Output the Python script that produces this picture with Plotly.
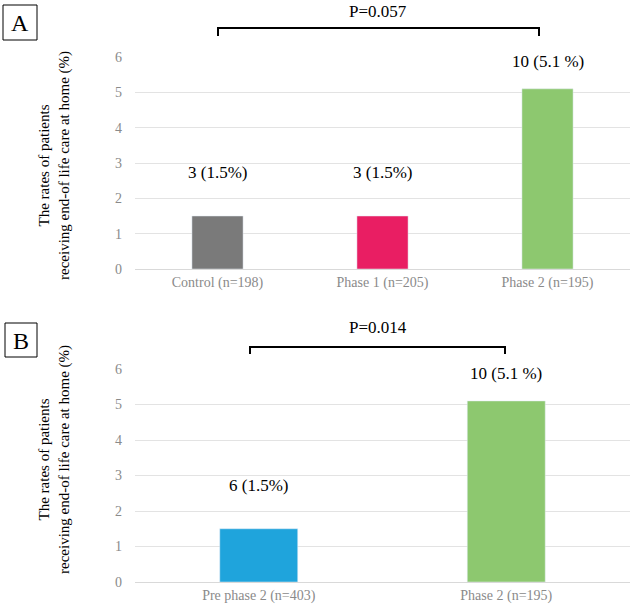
import plotly.graph_objects as go

W, H = 637, 610

# Panel A data
cats_a = ["Control (n=198)", "Phase 1 (n=205)", "Phase 2 (n=195)"]
vals_a = [1.5, 1.5, 5.1]
labels_a = ["3 (1.5%)", "3 (1.5%)", "10 (5.1 %)"]
colors_a = ["#7a7a7a", "#e91e63", "#8dc86f"]
p_a = "P=0.057"

# Panel B data
cats_b = ["Pre phase 2 (n=403)", "Phase 2 (n=195)"]
vals_b = [1.5, 5.1]
labels_b = ["6 (1.5%)", "10 (5.1 %)"]
colors_b = ["#1fa4dc", "#8dc86f"]
p_b = "P=0.014"

y_ticks = [0, 1, 2, 3, 4, 5, 6]
ytitle = "The rates of patients<br>receiving end-of life care at home (%)"

FONT = "Liberation Serif"

def px(x):
    return x / W

def py(y):
    return 1 - y / H

fig = go.Figure()
fig.add_trace(go.Bar(x=cats_a, y=vals_a, marker_color=colors_a, width=0.31,
                     xaxis="x", yaxis="y", showlegend=False, hoverinfo="skip"))
fig.add_trace(go.Bar(x=cats_b, y=vals_b, marker_color=colors_b, width=0.315,
                     xaxis="x2", yaxis="y2", showlegend=False, hoverinfo="skip"))

tick_font = dict(family=FONT, size=14, color="#8a8a8a")
y_common = dict(showgrid=True, gridcolor="#e3e3e3", gridwidth=1,
                tickfont=tick_font, zeroline=False, showline=False,
                automargin=False, range=[0, 6], tickvals=y_ticks,
                ticklabelstandoff=12)
x_common = dict(showgrid=False, tickfont=tick_font, showline=True,
                linecolor="#d9d9d9", linewidth=1, ticks="", automargin=False)

fig.update_layout(
    width=W, height=H,
    margin=dict(l=0, r=0, t=0, b=0, pad=0),
    paper_bgcolor="white", plot_bgcolor="white",
    font=dict(family=FONT, color="black"),
    xaxis=dict(domain=[px(135), px(630)], anchor="y", **x_common),
    yaxis=dict(domain=[py(269), py(57)], anchor="x", **y_common),
    xaxis2=dict(domain=[px(135), px(630)], anchor="y2", **x_common),
    yaxis2=dict(domain=[py(582), py(369)], anchor="x2", **y_common),
)

ann = []
lab_font = dict(family=FONT, size=17, color="black")
for c, v, t in zip(cats_a, vals_a, labels_a):
    ann.append(dict(x=c, y=v, xref="x", yref="y", text=t, showarrow=False,
                    yshift=(32 if v < 3 else 16), yanchor="bottom",
                    xanchor="center", font=lab_font))
for c, v, t in zip(cats_b, vals_b, labels_b):
    ann.append(dict(x=c, y=v, xref="x2", yref="y2", text=t, showarrow=False,
                    yshift=(32 if v < 3 else 16), yanchor="bottom",
                    xanchor="center", font=lab_font))

for yc in (166, 460):
    ann.append(dict(x=px(55), y=py(yc), xref="paper", yref="paper", text=ytitle,
                    textangle=-90, showarrow=False, align="center",
                    xanchor="center", yanchor="middle",
                    font=dict(family=FONT, size=15, color="black")))

ann.append(dict(x=px(378), y=py(12), xref="paper", yref="paper", text=p_a,
                showarrow=False, xanchor="center", yanchor="middle", font=lab_font))
ann.append(dict(x=px(378), y=py(327), xref="paper", yref="paper", text=p_b,
                showarrow=False, xanchor="center", yanchor="middle", font=lab_font))

ann.append(dict(x=px(20), y=py(23), xref="paper", yref="paper", text="A",
                showarrow=False, xanchor="center", yanchor="middle",
                font=dict(family=FONT, size=24, color="black")))
ann.append(dict(x=px(21), y=py(341), xref="paper", yref="paper", text="B",
                showarrow=False, xanchor="center", yanchor="middle",
                font=dict(family=FONT, size=24, color="black")))

fig.update_layout(annotations=ann)

shapes = []
shapes.append(dict(type="rect", xref="paper", yref="paper",
                   x0=px(3), x1=px(37), y0=py(40), y1=py(5),
                   line=dict(color="black", width=1)))
shapes.append(dict(type="rect", xref="paper", yref="paper",
                   x0=px(5), x1=px(37), y0=py(357), y1=py(323),
                   line=dict(color="black", width=1)))
shapes.append(dict(type="path", xref="paper", yref="paper",
                   path=f"M {px(218)},{py(36)} L {px(218)},{py(28)} L {px(539)},{py(28)} L {px(539)},{py(36)}",
                   line=dict(color="black", width=2)))
shapes.append(dict(type="path", xref="paper", yref="paper",
                   path=f"M {px(250)},{py(354)} L {px(250)},{py(347)} L {px(505)},{py(347)} L {px(505)},{py(354)}",
                   line=dict(color="black", width=2)))
fig.update_layout(shapes=shapes)

fig.write_html("out.html",
               config={"displayModeBar": False},
               post_script="document.body.style.margin='0';document.body.style.padding='0';")
